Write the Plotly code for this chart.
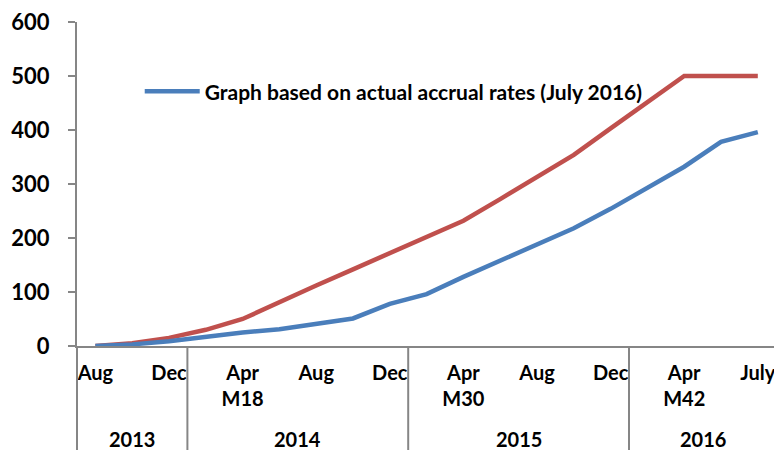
import plotly.graph_objects as go

# categories: every two months from Aug 2013 to Jul 2016
months = ["Aug", "Oct", "Dec", "Feb", "Apr", "Jun", "Aug", "Oct", "Dec",
          "Feb", "Apr", "Jun", "Aug", "Oct", "Dec", "Feb", "Apr", "Jun", "July"]
years = ["2013"] * 3 + ["2014"] * 6 + ["2015"] * 6 + ["2016"] * 4
tick_labels = ["Aug", "", "Dec", "", "Apr<br>M18", "", "Aug", "", "Dec", "",
               "Apr<br>M30", "", "Aug", "", "Dec", "", "Apr<br>M42", "", "July"]
year_labels = ["2013", "2014", "2015", "2016"]

actual = [0, 3, 9, 18, 25, 31, 40, 51, 78, 96, 128, 158, 188, 218, 254, 292, 332, 378, 396]
target = [0, 5, 15, 30, 50, 82, 112, 142, 172, 202, 232, 272, 313, 354, 403, 451, 500, 500, 500]

legend_name = "Graph based on actual accrual rates (July 2016)"

idx = list(range(len(months)))
FONT = "Lato"
AXIS_COLOR = "#868686"

fig = go.Figure()
fig.add_trace(go.Scatter(x=idx, y=target, mode="lines", showlegend=False,
                         line=dict(color="#C0504D", width=4.5)))
fig.add_trace(go.Scatter(x=idx, y=actual, mode="lines", name=legend_name,
                         line=dict(color="#4A7EBB", width=4.5)))

shown = [i for i, t in enumerate(tick_labels) if t]

# year group boundaries and centres
bounds = []
centres = []
start = 0
for y in year_labels:
    n = years.count(y)
    centres.append(start + (n - 1) / 2)
    bounds.append(start + n - 0.5)
    start += n

shapes = []
for b in bounds[:-1]:
    shapes.append(dict(type="line", xref="x", yref="paper", x0=b, x1=b, y0=-0.33, y1=0,
                       line=dict(color=AXIS_COLOR, width=2)))
shapes.append(dict(type="line", xref="paper", yref="paper", x0=0, x1=0, y0=-0.33, y1=0,
                   line=dict(color=AXIS_COLOR, width=2)))

annotations = []
for c, y in zip(centres, year_labels):
    annotations.append(dict(x=c, y=-0.287, xref="x", yref="paper", text=y, showarrow=False,
                            xanchor="center", yanchor="middle",
                            font=dict(family=FONT, size=20, color="black", weight="bold")))

fig.update_layout(
    width=774, height=450,
    margin=dict(l=77, r=0, t=22, b=104, autoexpand=False),
    plot_bgcolor="white", paper_bgcolor="white",
    showlegend=True,
    legend=dict(x=0.09, y=0.785, xanchor="left", yanchor="middle",
                itemwidth=55,
                bgcolor="rgba(0,0,0,0)",
                font=dict(family=FONT, size=21, color="black", weight="bold")),
    shapes=shapes,
    annotations=annotations,
    xaxis=dict(range=[-0.5, 18.44], tickmode="array", tickvals=shown,
               ticktext=[tick_labels[i] for i in shown], ticks="",
               showgrid=False, zeroline=False, showline=True,
               linecolor=AXIS_COLOR, linewidth=2, automargin=False,
               ticklabelstandoff=8, ticklabeloverflow="allow",
               tickfont=dict(family=FONT, size=20, color="black", weight="bold")),
    yaxis=dict(range=[0, 600], tickmode="array", tickvals=[0, 100, 200, 300, 400, 500, 600],
               ticks="outside", ticklen=7, tickcolor=AXIS_COLOR, tickwidth=2,
               showgrid=False, zeroline=False, showline=True, automargin=False,
               linecolor=AXIS_COLOR, linewidth=2, ticklabelstandoff=14,
               ticklabeloverflow="allow",
               tickfont=dict(family=FONT, size=22, color="black", weight="bold")),
)

fig.write_html("out.html",
               config={"displayModeBar": False},
               post_script="document.body.style.margin='0';"
                           "document.body.style.overflow='hidden';")
